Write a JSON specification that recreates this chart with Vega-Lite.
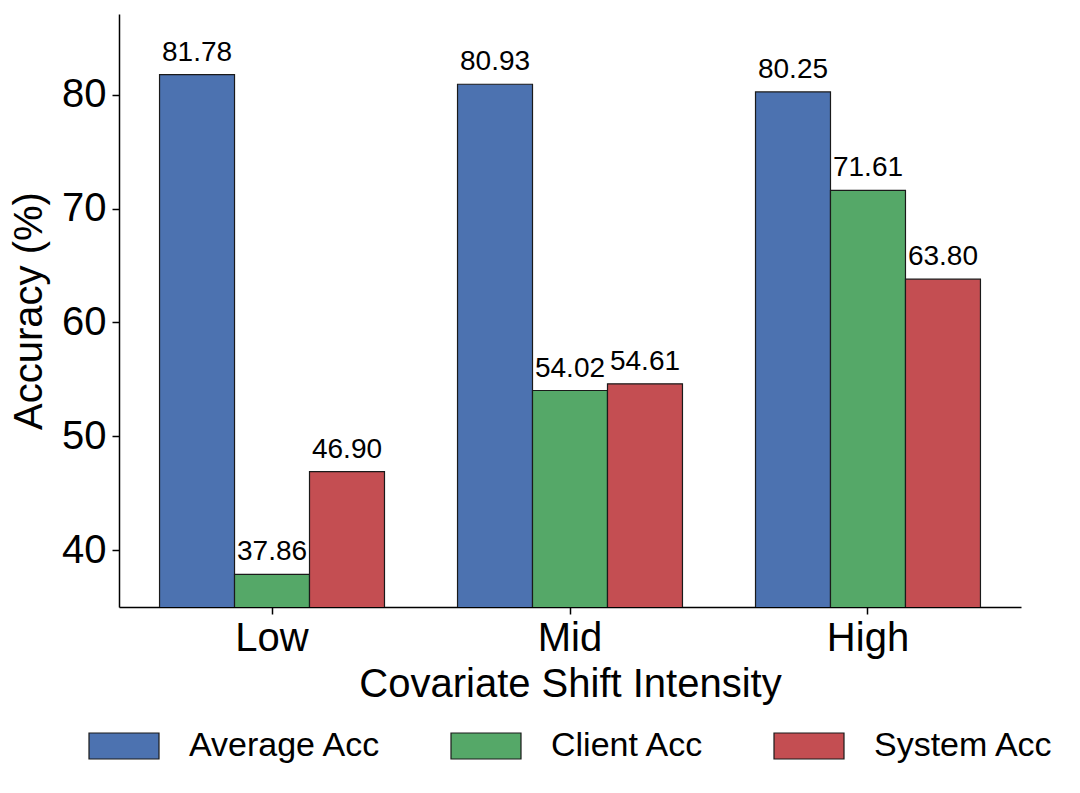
{
  "$schema": "https://vega.github.io/schema/vega-lite/v6.json",
  "width": 902,
  "height": 593,
  "autosize": {"type": "none"},
  "padding": {"left": 119, "top": 14, "right": 59, "bottom": 186},
  "background": "white",
  "config": {
    "view": {"stroke": null},
    "font": "Liberation Sans",
    "axis": {
      "domainColor": "black",
      "domainWidth": 1.5,
      "tickColor": "black",
      "tickWidth": 1.5,
      "tickSize": 7,
      "grid": false,
      "labelFont": "Liberation Sans",
      "labelFontSize": 40,
      "labelColor": "black",
      "titleFont": "Liberation Sans",
      "titleFontSize": 40,
      "titleFontWeight": "normal",
      "titleColor": "black"
    }
  },
  "data": {
    "values": [
      {"shift": "Low", "metric": "Average Acc", "acc": 81.78},
      {"shift": "Low", "metric": "Client Acc", "acc": 37.86},
      {"shift": "Low", "metric": "System Acc", "acc": 46.90},
      {"shift": "Mid", "metric": "Average Acc", "acc": 80.93},
      {"shift": "Mid", "metric": "Client Acc", "acc": 54.02},
      {"shift": "Mid", "metric": "System Acc", "acc": 54.61},
      {"shift": "High", "metric": "Average Acc", "acc": 80.25},
      {"shift": "High", "metric": "Client Acc", "acc": 71.61},
      {"shift": "High", "metric": "System Acc", "acc": 63.80}
    ]
  },
  "encoding": {
    "x": {
      "field": "shift",
      "type": "nominal",
      "sort": ["Low", "Mid", "High"],
      "scale": {"paddingInner": 0, "paddingOuter": 0.0135},
      "title": "Covariate Shift Intensity",
      "axis": {"labelAngle": 0, "labelPadding": 4, "titlePadding": 6}
    },
    "xOffset": {
      "field": "metric",
      "type": "nominal",
      "sort": ["Average Acc", "Client Acc", "System Acc"],
      "scale": {"paddingInner": 0, "paddingOuter": 0.487}
    },
    "y": {
      "field": "acc",
      "type": "quantitative",
      "scale": {"domain": [35, 87.1], "nice": false, "zero": false},
      "title": "Accuracy (%)",
      "axis": {"values": [40, 50, 60, 70, 80], "labelPadding": 6, "titlePadding": 12}
    }
  },
  "layer": [
    {
      "mark": {"type": "bar", "stroke": "#1a1a1a", "strokeWidth": 1.2, "clip": true},
      "encoding": {
        "color": {
          "field": "metric",
          "type": "nominal",
          "sort": ["Average Acc", "Client Acc", "System Acc"],
          "scale": {"range": ["#4C72B0", "#55A868", "#C44E52"]},
          "legend": {
            "title": null,
            "orient": "none",
            "direction": "horizontal",
            "legendX": -31,
            "legendY": 696,
            "symbolType": "M-1,-0.371L1,-0.371L1,0.371L-1,0.371Z",
            "symbolSize": 4900,
            "symbolStrokeColor": "#1a1a1a",
            "symbolStrokeWidth": 1.2,
            "symbolOpacity": 1,
            "labelFont": "Liberation Sans",
            "labelFontSize": 34,
            "labelColor": "black",
            "labelLimit": 500,
            "labelOffset": 29,
            "columnPadding": 66,
            "padding": 0
          }
        }
      }
    },
    {
      "mark": {"type": "text", "baseline": "alphabetic", "dy": -14, "fontSize": 28, "color": "black", "font": "Liberation Sans"},
      "encoding": {
        "text": {"field": "acc", "type": "quantitative", "format": ".2f"}
      }
    }
  ]
}
